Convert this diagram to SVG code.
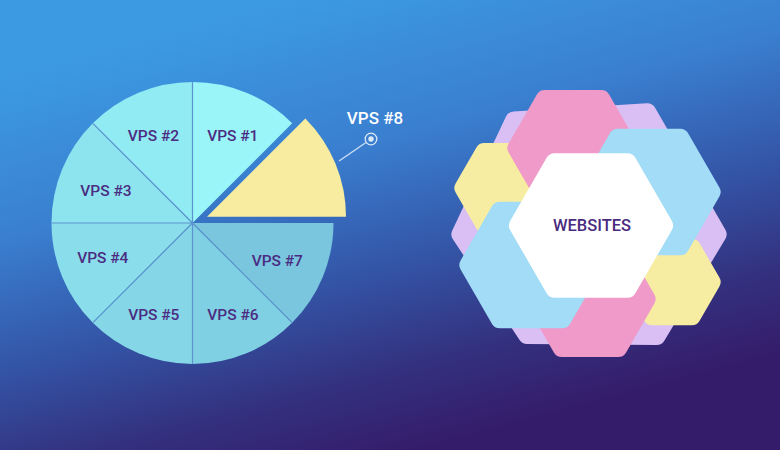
<svg xmlns="http://www.w3.org/2000/svg" width="780" height="450" viewBox="0 0 780 450">
<defs>
<linearGradient id="bg" gradientUnits="userSpaceOnUse" x1="300" y1="0" x2="420" y2="450">
<stop offset="0" stop-color="#3C9AE2"/>
<stop offset="0.33" stop-color="#3A7FD0"/>
<stop offset="0.58" stop-color="#3458AA"/>
<stop offset="0.82" stop-color="#33317F"/>
<stop offset="1" stop-color="#351C6A"/>
</linearGradient>
<style>
.lbl{font-family:Roboto,"Liberation Sans",sans-serif;font-weight:500;font-size:15.5px;fill:#4B2C82;text-anchor:middle}
.sep{stroke:#5A93CF;stroke-width:1.2;fill:none}
.hx{stroke-width:18;stroke-linejoin:round}
</style>
</defs>
<rect width="780" height="450" fill="url(#bg)"/>

<g id="pie">
<g id="vps1"><path d="M192.5 223 L192.5 82 A141 141 0 0 1 292.2 123.3 Z" fill="#9AF5F8"/><text class="lbl" x="232.8" y="140.7">VPS #1</text></g>
<g id="vps2"><path d="M192.5 223 L92.8 123.3 A141 141 0 0 1 192.5 82 Z" fill="#91EBF2"/><text class="lbl" x="153.5" y="140.7">VPS #2</text></g>
<g id="vps3"><path d="M192.5 223 L51.5 223 A141 141 0 0 1 92.8 123.3 Z" fill="#8DE4EE"/><text class="lbl" x="106" y="195.7">VPS #3</text></g>
<g id="vps4"><path d="M192.5 223 L92.8 322.7 A141 141 0 0 1 51.5 223 Z" fill="#8ADEEB"/><text class="lbl" x="102.8" y="262.7">VPS #4</text></g>
<g id="vps5"><path d="M192.5 223 L192.5 364 A141 141 0 0 1 92.8 322.7 Z" fill="#85D7E7"/><text class="lbl" x="153.8" y="320">VPS #5</text></g>
<g id="vps6"><path d="M192.5 223 L292.2 322.7 A141 141 0 0 1 192.5 364 Z" fill="#80D0E3"/><text class="lbl" x="233" y="320">VPS #6</text></g>
<g id="vps7"><path d="M192.5 223 L333.5 223 A141 141 0 0 1 292.2 322.7 Z" fill="#79C6DE"/><text class="lbl" x="277.3" y="265.7">VPS #7</text></g>
<g id="vps8"><path d="M207 216.7 L305.3 118.4 A139 139 0 0 1 346 216.7 Z" fill="#F7ECA0"/></g>
<g id="separators">
<path class="sep" d="M192.5 223 L192.5 82 M192.5 223 L92.8 123.3 M192.5 223 L51.5 223 M192.5 223 L92.8 322.7 M192.5 223 L192.5 364 M192.5 223 L292.2 322.7"/>
</g>
</g>

<g id="connectors">
<line x1="339" y1="161" x2="366" y2="142.5" stroke="#C9DCF2" stroke-width="1.5"/>
<circle cx="371" cy="139" r="5.8" fill="none" stroke="#DDE8F7" stroke-width="1.3"/>
<circle cx="371" cy="139" r="2.7" fill="#DDE8F7"/>
</g>
<g id="vps8-label"><text x="375" y="124.3" style="font-family:Roboto,'Liberation Sans',sans-serif;font-weight:500;font-size:17px;fill:#FFFFFF;text-anchor:middle">VPS #8</text></g>

<g id="hex-cluster">
<g id="hex-lavender"><polygon class="hx" fill="#D9BFF4" stroke="#D9BFF4" points="514,120.5 647.3,112.3 717.6,234.3 656.6,336.1 527.1,335 460.4,234.3"/></g>
<g id="hex-yellow-left"><polygon class="hx" fill="#F7EDA2" stroke="#F7EDA2" points="546.6,188 525.8,224 484.2,224 463.4,188 484.2,152 525.8,152"/></g>
<g id="hex-yellow-right"><polygon class="hx" fill="#F7EDA2" stroke="#F7EDA2" points="711.6,282 691.8,316.3 652.2,316.3 632.4,282 652.2,247.7 691.8,247.7"/></g>
<g id="hex-pink-top"><polygon class="hx" fill="#EF9AC8" stroke="#EF9AC8" points="629.6,148 601.3,197 544.7,197 516.4,148 544.7,99 601.3,99"/></g>
<g id="hex-pink-bottom"><polygon class="hx" fill="#EF9AC8" stroke="#EF9AC8" points="646.6,299 618.3,348 561.7,348 533.4,299 561.7,250 618.3,250"/></g>
<g id="hex-blue-top"><polygon class="hx" fill="#A2DCF6" stroke="#A2DCF6" points="711.6,192 680.3,246.2 617.7,246.2 586.4,192 617.7,137.8 680.3,137.8"/></g>
<g id="hex-blue-bottom"><polygon class="hx" fill="#A2DCF6" stroke="#A2DCF6" points="593.6,265 562.3,319.2 499.7,319.2 468.4,265 499.7,210.8 562.3,210.8"/></g>
<g id="hex-websites"><polygon class="hx" fill="#FFFFFF" stroke="#FFFFFF" points="664.1,225.5 627.55,288.8 554.45,288.8 517.9,225.5 554.45,162.2 627.55,162.2"/>
<text x="592" y="231.2" style="font-family:Roboto,'Liberation Sans',sans-serif;font-weight:500;font-size:16.5px;fill:#4A2B80;text-anchor:middle">WEBSITES</text></g>
</g>
</svg>
